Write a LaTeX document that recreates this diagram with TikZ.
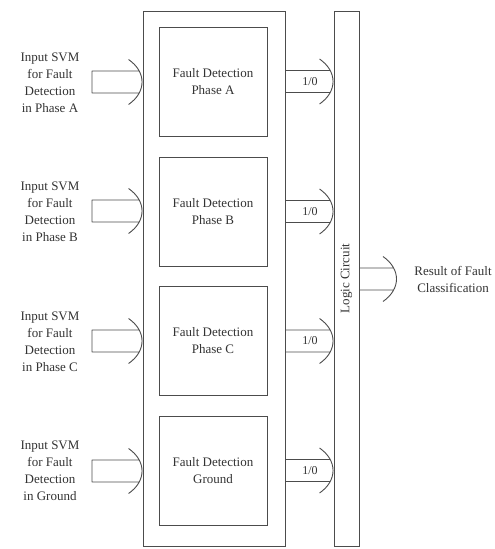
\documentclass[tikz,border=0pt]{standalone}
\usepackage{fontspec}
\setmainfont{Liberation Serif}
\usetikzlibrary{calc}
\tikzset{
  ln/.style={draw=black!70, line width=0.9pt},
  blockbox/.style={ln, rectangle, minimum width=108pt, minimum height=109pt, align=center,
    font=\fontsize{13}{17}\selectfont, text=black!80, inner sep=0pt},
  lbl/.style={align=center, font=\fontsize{13}{17}\selectfont, text=black!80, inner sep=0pt},
  small/.style={font=\fontsize{12}{14}\selectfont, text=black!80, inner sep=0pt},
}
\newcommand{\fatarr}[2]{%
  \draw[ln, line join=round] let \p1=(#1), \p2=(#2) in
    (\x2-3.5pt,\y1+11pt) -- (\x1,\y1+11pt) -- (\x1,\y1-11pt) -- (\x2-3.5pt,\y1-11pt)
    (\x2-14pt,\y1+22.5pt) .. controls (\x2+4pt,\y1+10pt) and (\x2+4pt,\y1-10pt) .. (\x2-14pt,\y1-22.5pt);}
\begin{document}
\begin{tikzpicture}[x=1pt,y=-1pt]
\useasboundingbox (0,0) rectangle (495,549);
% outer box and bar
\node[ln, minimum width=142pt, minimum height=535pt, inner sep=0pt] (outer) at (214,278.5) {};
\node[ln, minimum width=25pt, minimum height=535pt, inner sep=0pt] (bar) at (346.5,278.5) {};
\node[lbl, rotate=90] (lc) at (bar.center) {Logic Circuit};
% inner boxes
\node[blockbox] (fa) at (213,81.5) {Fault Detection\\Phase A};
\node[blockbox] (fb) at (213,211.5) {Fault Detection\\Phase B};
\node[blockbox] (fc) at (213,341) {Fault Detection\\Phase C};
\node[blockbox] (fg) at (213,470.5) {Fault Detection\\Ground};
% input labels
\node[lbl] (ia) at (50,82.5) {Input SVM\\for Fault\\Detection\\in Phase A};
\node[lbl] (ib) at (50,212) {Input SVM\\for Fault\\Detection\\in Phase B};
\node[lbl] (ic) at (50,341.5) {Input SVM\\for Fault\\Detection\\in Phase C};
\node[lbl] (ig) at (50,471) {Input SVM\\for Fault\\Detection\\in Ground};
% input arrows
\coordinate (sa) at (92,82);
\coordinate (sb) at (92,211);
\coordinate (sc) at (92,341);
\coordinate (sg) at (92,471);
\fatarr{sa}{outer.west |- sa}
\fatarr{sb}{outer.west |- sb}
\fatarr{sc}{outer.west |- sc}
\fatarr{sg}{outer.west |- sg}
% output arrows
\fatarr{outer.east |- fa}{bar.west |- fa}
\fatarr{outer.east |- fb}{bar.west |- fb}
\fatarr{outer.east |- fc}{bar.west |- fc}
\fatarr{outer.east |- fg}{bar.west |- fg}
\node[small] (oa) at (310,81.5) {1/0};
\node[small] (ob) at (310,211.5) {1/0};
\node[small] (oc) at (310,341) {1/0};
\node[small] (og) at (310,470.5) {1/0};
% result
\node[lbl] (res) at (453,279) {Result of Fault\\Classification};
\coordinate (rt) at (397,279);
\fatarr{bar.east |- rt}{rt}
\end{tikzpicture}
\end{document}
